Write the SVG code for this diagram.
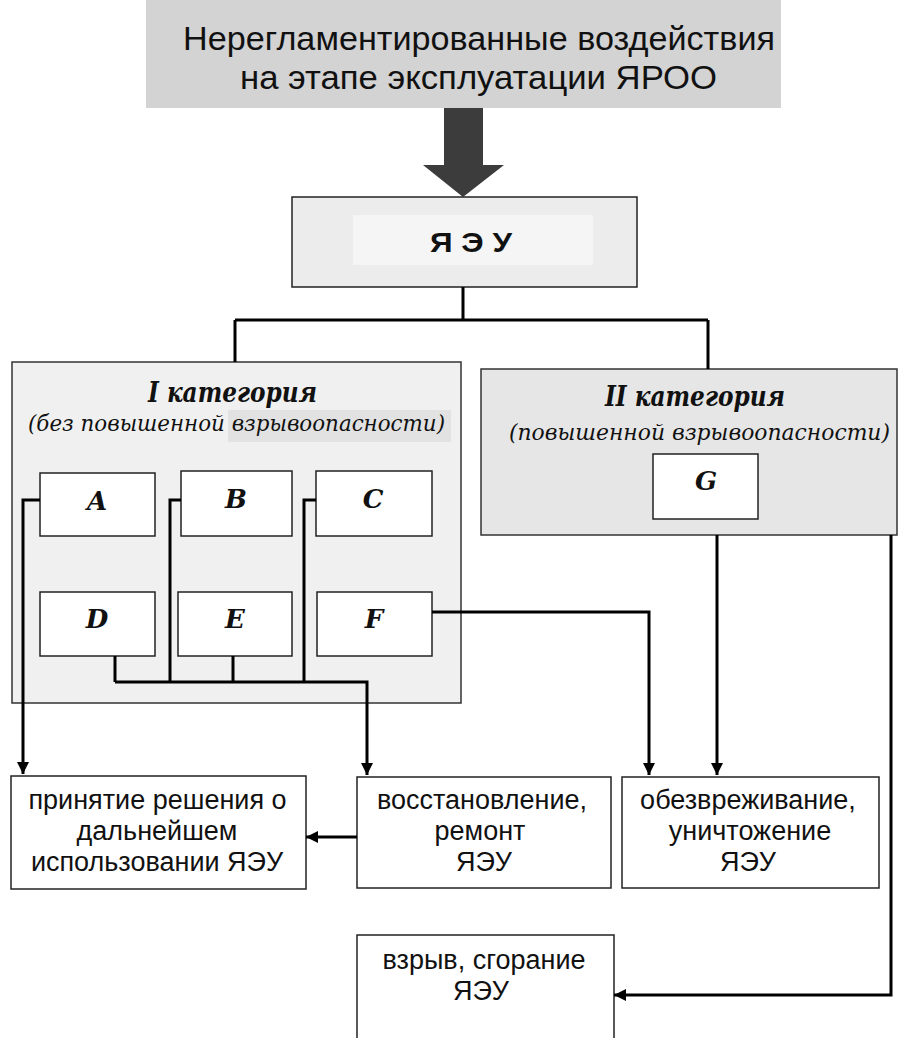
<svg xmlns="http://www.w3.org/2000/svg" width="900" height="1038" viewBox="0 0 900 1038">
<defs>
<marker id="arr" viewBox="0 0 12 12" refX="12" refY="6" markerWidth="12" markerHeight="12" markerUnits="userSpaceOnUse" orient="auto">
<path d="M0,0 L12,6 L0,12 z" fill="#000"/>
</marker>
</defs>
<style>
.box{fill:#fff;stroke:#222;stroke-width:1.5}
.cat{fill:#f0f0f0;stroke:#333;stroke-width:1.5}
.sans{font-family:"Liberation Sans",Arial,sans-serif;fill:#111;text-anchor:middle}
.bt{font-size:27px}
.serif{font-family:"DejaVu Serif","Liberation Serif",serif;fill:#111;text-anchor:middle;font-style:italic}
.ltr{font-family:"DejaVu Serif","Liberation Serif",serif;fill:#111;text-anchor:middle;font-style:italic;font-weight:bold;font-size:26px}
.conn{fill:none;stroke:#000;stroke-width:3}
</style>
<rect width="900" height="1038" fill="#fff"/>

<g id="banner">
<rect x="146" y="0" width="635" height="108" fill="#d3d3d3"/>
<text class="sans" x="479" y="50" font-size="34" textLength="592" lengthAdjust="spacingAndGlyphs">Нерегламентированные воздействия</text>
<text class="sans" x="478.5" y="89" font-size="34" textLength="477" lengthAdjust="spacingAndGlyphs">на этапе эксплуатации ЯРОО</text>
</g>

<g id="big-arrow">
<path d="M444,108 H483 V165 H504 L463,197 L423,165 H444 Z" fill="#3c3c3c"/>
</g>

<g id="yaeu">
<rect x="292" y="197" width="345" height="90" fill="#ececec" stroke="#222" stroke-width="1.5"/>
<rect x="353" y="215" width="240" height="50" fill="#f5f5f5"/>
<text class="sans" x="471" y="252" font-size="28" font-weight="bold" textLength="82" lengthAdjust="spacingAndGlyphs">Я Э У</text>
</g>

<g id="cat1">
<rect class="cat" x="12" y="362" width="449" height="341"/>
<rect x="228" y="410" width="223" height="32" fill="#e2e2e2"/>
<text class="serif" x="232.5" y="402" font-size="28" font-weight="bold" textLength="169" lengthAdjust="spacingAndGlyphs">I категория</text>
<text class="serif" x="236.5" y="431" font-size="22" textLength="417" lengthAdjust="spacingAndGlyphs">(без повышенной взрывоопасности)</text>
</g>

<g id="nA"><rect class="box" x="40" y="473" width="115" height="63"/><text class="ltr" x="97" y="510">A</text></g>
<g id="nB"><rect class="box" x="181" y="471" width="111" height="65"/><text class="ltr" x="236" y="508">B</text></g>
<g id="nC"><rect class="box" x="316" y="471" width="116" height="65"/><text class="ltr" x="373" y="508">C</text></g>
<g id="nD"><rect class="box" x="40" y="592" width="115" height="64"/><text class="ltr" x="97" y="628">D</text></g>
<g id="nE"><rect class="box" x="178" y="592" width="114" height="64"/><text class="ltr" x="235" y="628">E</text></g>
<g id="nF"><rect class="box" x="317" y="592" width="115" height="64"/><text class="ltr" x="374" y="628">F</text></g>

<g id="cat2">
<rect x="481" y="369" width="416" height="166" fill="#e6e6e6" stroke="#333" stroke-width="1.5"/>
<text class="serif" x="695" y="406" font-size="28" font-weight="bold" textLength="180" lengthAdjust="spacingAndGlyphs">II категория</text>
<text class="serif" x="699.5" y="440" font-size="22" textLength="381" lengthAdjust="spacingAndGlyphs">(повышенной взрывоопасности)</text>
</g>
<g id="nG"><rect class="box" x="653" y="454" width="105" height="65"/><text class="ltr" x="706" y="490">G</text></g>

<g id="decision">
<rect class="box" x="11" y="776" width="295" height="113"/>
<text class="sans bt" x="157.5" y="809">принятие решения о</text>
<text class="sans bt" x="157" y="840">дальнейшем</text>
<text class="sans bt" x="157" y="871">использовании ЯЭУ</text>
</g>
<g id="repair">
<rect class="box" x="357" y="777" width="254" height="111"/>
<text class="sans bt" x="482" y="809">восстановление,</text>
<text class="sans bt" x="480" y="840">ремонт</text>
<text class="sans bt" x="484" y="871">ЯЭУ</text>
</g>
<g id="neutralize">
<rect class="box" x="622" y="777" width="257" height="111"/>
<text class="sans bt" x="748" y="809">обезвреживание,</text>
<text class="sans bt" x="750" y="840">уничтожение</text>
<text class="sans bt" x="748" y="871">ЯЭУ</text>
</g>
<g id="explosion">
<rect class="box" x="357" y="935" width="257" height="110"/>
<text class="sans bt" x="484" y="969">взрыв, сгорание</text>
<text class="sans bt" x="481" y="1000">ЯЭУ</text>
</g>

<g id="connectors">
<path class="conn" d="M463,287 V320 M235,320 H708 M235,320 V362 M708,320 V369"/>
<path class="conn" d="M40,500 H23 V774" marker-end="url(#arr)"/>
<path class="conn" d="M181,500 H170 V682 M316,500 H304 V682 M115,656 V682 M233,656 V682 M115,682 H367 V775" marker-end="url(#arr)"/>
<path class="conn" d="M432,612 H649 V775" marker-end="url(#arr)"/>
<path class="conn" d="M717,535 V775" marker-end="url(#arr)"/>
<path class="conn" d="M891,535 V995 H614" marker-end="url(#arr)"/>
<path class="conn" d="M357,837 H306" marker-end="url(#arr)"/>
</g>
</svg>
